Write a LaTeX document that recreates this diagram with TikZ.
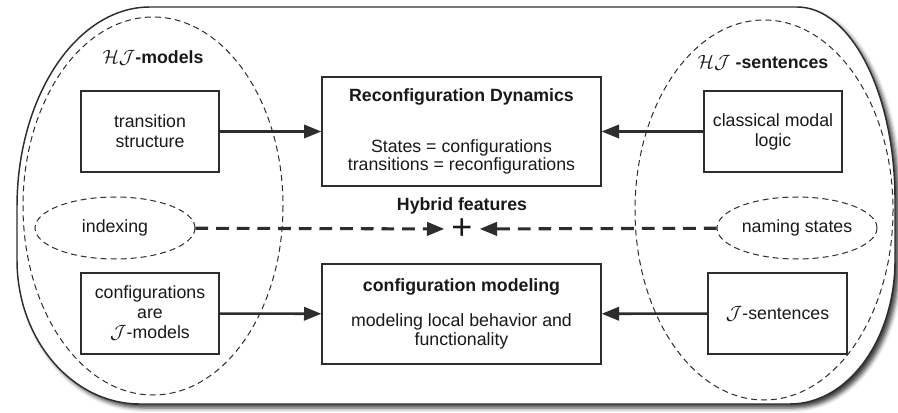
\documentclass[tikz,border=0pt]{standalone}
\usepackage{fontspec}
\setmainfont{Liberation Sans}
\usetikzlibrary{arrows.meta,shapes.geometric,shadows.blur}

\definecolor{inkgray}{RGB}{45,45,45}
\tikzset{every picture/.style={line width=0.75pt}}
\tikzset{
  txt/.style={font=\fontsize{13.3}{15}\selectfont, text=black!90},
  box/.style={txt, draw=inkgray, line width=1pt, align=center, inner sep=0pt},
  cloud/.style={txt, draw=inkgray, ellipse, inner sep=0pt, dash pattern=on 4.5pt off 3pt, line width=0.75pt},
  feed/.style={draw=inkgray, line width=1.9pt, -{Triangle[length=13pt,width=10pt]}},
  hybrid/.style={feed, line width=2.3pt, dash pattern=on 9.5pt off 6pt},
}

\begin{document}
\begin{tikzpicture}[x=0.75pt,y=0.75pt,yscale=-1,xscale=1]
    \useasboundingbox (0,0) rectangle (898,413);
    %Shape: Outer region
    \draw [draw=inkgray, line width=1.1pt, fill=white,
      blur shadow={shadow xshift=3pt, shadow yshift=-3pt, shadow blur radius=3pt, shadow opacity=75}]
      (150,7) -- (797,7) arc [start angle=270, end angle=360, x radius=98, y radius=193]
      -- (895,260) arc [start angle=0, end angle=90, x radius=105, y radius=144]
      -- (140,404) arc [start angle=90, end angle=180, x radius=123, y radius=144]
      -- (17,207) arc [start angle=180, end angle=270, x radius=133, y radius=200] -- cycle ;
    %Shape: Ellipse (models)
    \draw [draw=inkgray, dash pattern=on 4.5pt off 3pt] (153,206) ellipse [x radius=130, y radius=189] ;
    %Shape: Ellipse (sentences)
    \draw [draw=inkgray, dash pattern=on 4.5pt off 3pt] (764,210) ellipse [x radius=129, y radius=190] ;
    % Text Node
    \node [txt] (hjmod) at (153,58) {$\mathcal{HJ}$\textbf{-models}};
    \node [txt] (hjsen) at (763,63) {$\mathcal{HJ}$ \textbf{-sentences}};
    %Boxes
    \node [box, minimum width=103.5pt, minimum height=60.75pt] (trans) at (150,131.5) {transition\\structure};
    \node [box, minimum width=209.25pt, minimum height=81.75pt, font=\fontsize{13.3}{12}\selectfont] (reconf) at (461.5,131.5)
      {\textbf{Reconfiguration Dynamics}\\[25pt]States = configurations\\transitions = reconfigurations};
    \node [box, minimum width=103.5pt, minimum height=60.75pt] (modal) at (773,131.5) {classical modal\\logic};
    \node [box, minimum width=103.5pt, minimum height=60.75pt] (confs) at (150,313.5) {configurations\\are\\$\mathcal{J}$-models};
    \node [box, minimum width=209.25pt, minimum height=75pt, font=\fontsize{13.3}{14.25}\selectfont] (cfgmod) at (461.5,314)
      {\textbf{configuration modeling}\\[12pt]modeling local behavior and\\functionality};
    \node [box, minimum width=104.25pt, minimum height=60.75pt] (jsen) at (777.5,313.5) {$\mathcal{J}$-sentences};
    %Ellipses with text
    \node [cloud, minimum width=120pt, minimum height=46.5pt] (idx) at (115,228) {indexing};
    \node [cloud, minimum width=120pt, minimum height=46.5pt] (naming) at (797,228) {naming states};
    %Hybrid features
    \node [txt] (hyb) at (462,206) {\textbf{Hybrid features}};
    \node [txt, font=\fontsize{27}{27}\selectfont, inner sep=5pt] (plus) at (462,229) {+};
    %Arrows
    \draw [feed] (trans) -- (reconf);
    \draw [feed] (modal) -- (reconf);
    \draw [feed] (confs) -- (cfgmod);
    \draw [feed] (jsen) -- (cfgmod);
    \draw [hybrid] (idx) -- (plus);
    \draw [hybrid] (naming) -- (plus);
\end{tikzpicture}
\end{document}
